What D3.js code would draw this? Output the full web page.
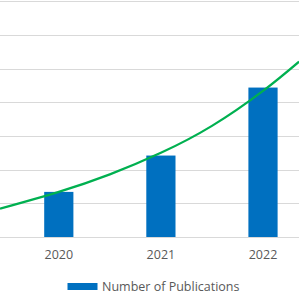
<!DOCTYPE html>
<html>
<head>
<meta charset="utf-8">
<script src="https://cdn.jsdelivr.net/npm/d3@7"></script>
<style>
  body { margin: 0; background: #fff; }
  svg { display: block; font-family: "Open Sans", sans-serif; }
</style>
</head>
<body>
<div id="chart"></div>
<script>
// categories and bar values
var years = ["2020", "2021", "2022"];
var publications = [13.4, 24.2, 44.4];

// trend line (position in category units, value)
var trendPos = [-0.576, 0, 0.5, 1.0, 1.5, 2.0, 2.353];
var trendVal = [8.4, 13.4, 18.6, 25.0, 33.0, 43.4, 52.1];

var yTicks = [0, 10, 20, 30, 40, 50, 60, 70];
var legendLabel = "Number of Publications";

var width = 299, height = 293;

var svg = d3.select("#chart").append("svg")
    .attr("width", width)
    .attr("height", height);

var x = d3.scaleBand()
    .domain(years)
    .range([7.75, 314.05])
    .paddingInner(0.714)
    .paddingOuter(0.357);

var y = d3.scaleLinear()
    .domain([0, 70])
    .range([237, 1.4]);

// category units -> pixels, following the band centres
var step = x.step();
var x0 = x(years[0]) + x.bandwidth() / 2;
var xt = d3.scaleLinear().domain([0, 1]).range([x0, x0 + step]);

// gridlines
svg.append("g")
  .selectAll("line")
  .data(yTicks)
  .enter().append("line")
    .attr("x1", 0)
    .attr("x2", width)
    .attr("y1", function(d) { return Math.round(y(d)) + 0.5; })
    .attr("y2", function(d) { return Math.round(y(d)) + 0.5; })
    .attr("stroke", "#d9d9d9")
    .attr("stroke-width", 1);

// bars
svg.append("g")
  .selectAll("rect")
  .data(publications)
  .enter().append("rect")
    .attr("x", function(d, i) { return x(years[i]); })
    .attr("y", function(d) { return y(d); })
    .attr("width", x.bandwidth())
    .attr("height", function(d) { return y(0) - y(d); })
    .attr("fill", "#0070c0");

// trend line
var trend = trendPos.map(function(p, i) { return [p, trendVal[i]]; });
var line = d3.line()
    .x(function(d) { return xt(d[0]); })
    .y(function(d) { return y(d[1]); })
    .curve(d3.curveNatural);

svg.append("path")
    .datum(trend)
    .attr("d", line)
    .attr("fill", "none")
    .attr("stroke", "#00b050")
    .attr("stroke-width", 2.2);

// x axis labels
svg.append("g")
  .selectAll("text")
  .data(years)
  .enter().append("text")
    .attr("x", function(d) { return x(d) + x.bandwidth() / 2; })
    .attr("y", 259)
    .attr("text-anchor", "middle")
    .attr("font-size", "12.5px")
    .attr("fill", "#595959")
    .text(function(d) { return d; });

// legend
var legend = svg.append("g");
legend.append("rect")
    .attr("x", 67.5)
    .attr("y", 283)
    .attr("width", 30)
    .attr("height", 7)
    .attr("fill", "#0070c0");
legend.append("text")
    .attr("x", 102)
    .attr("y", 290.5)
    .attr("font-size", "12.5px")
    .attr("fill", "#595959")
    .text(legendLabel);
</script>
</body>
</html>
